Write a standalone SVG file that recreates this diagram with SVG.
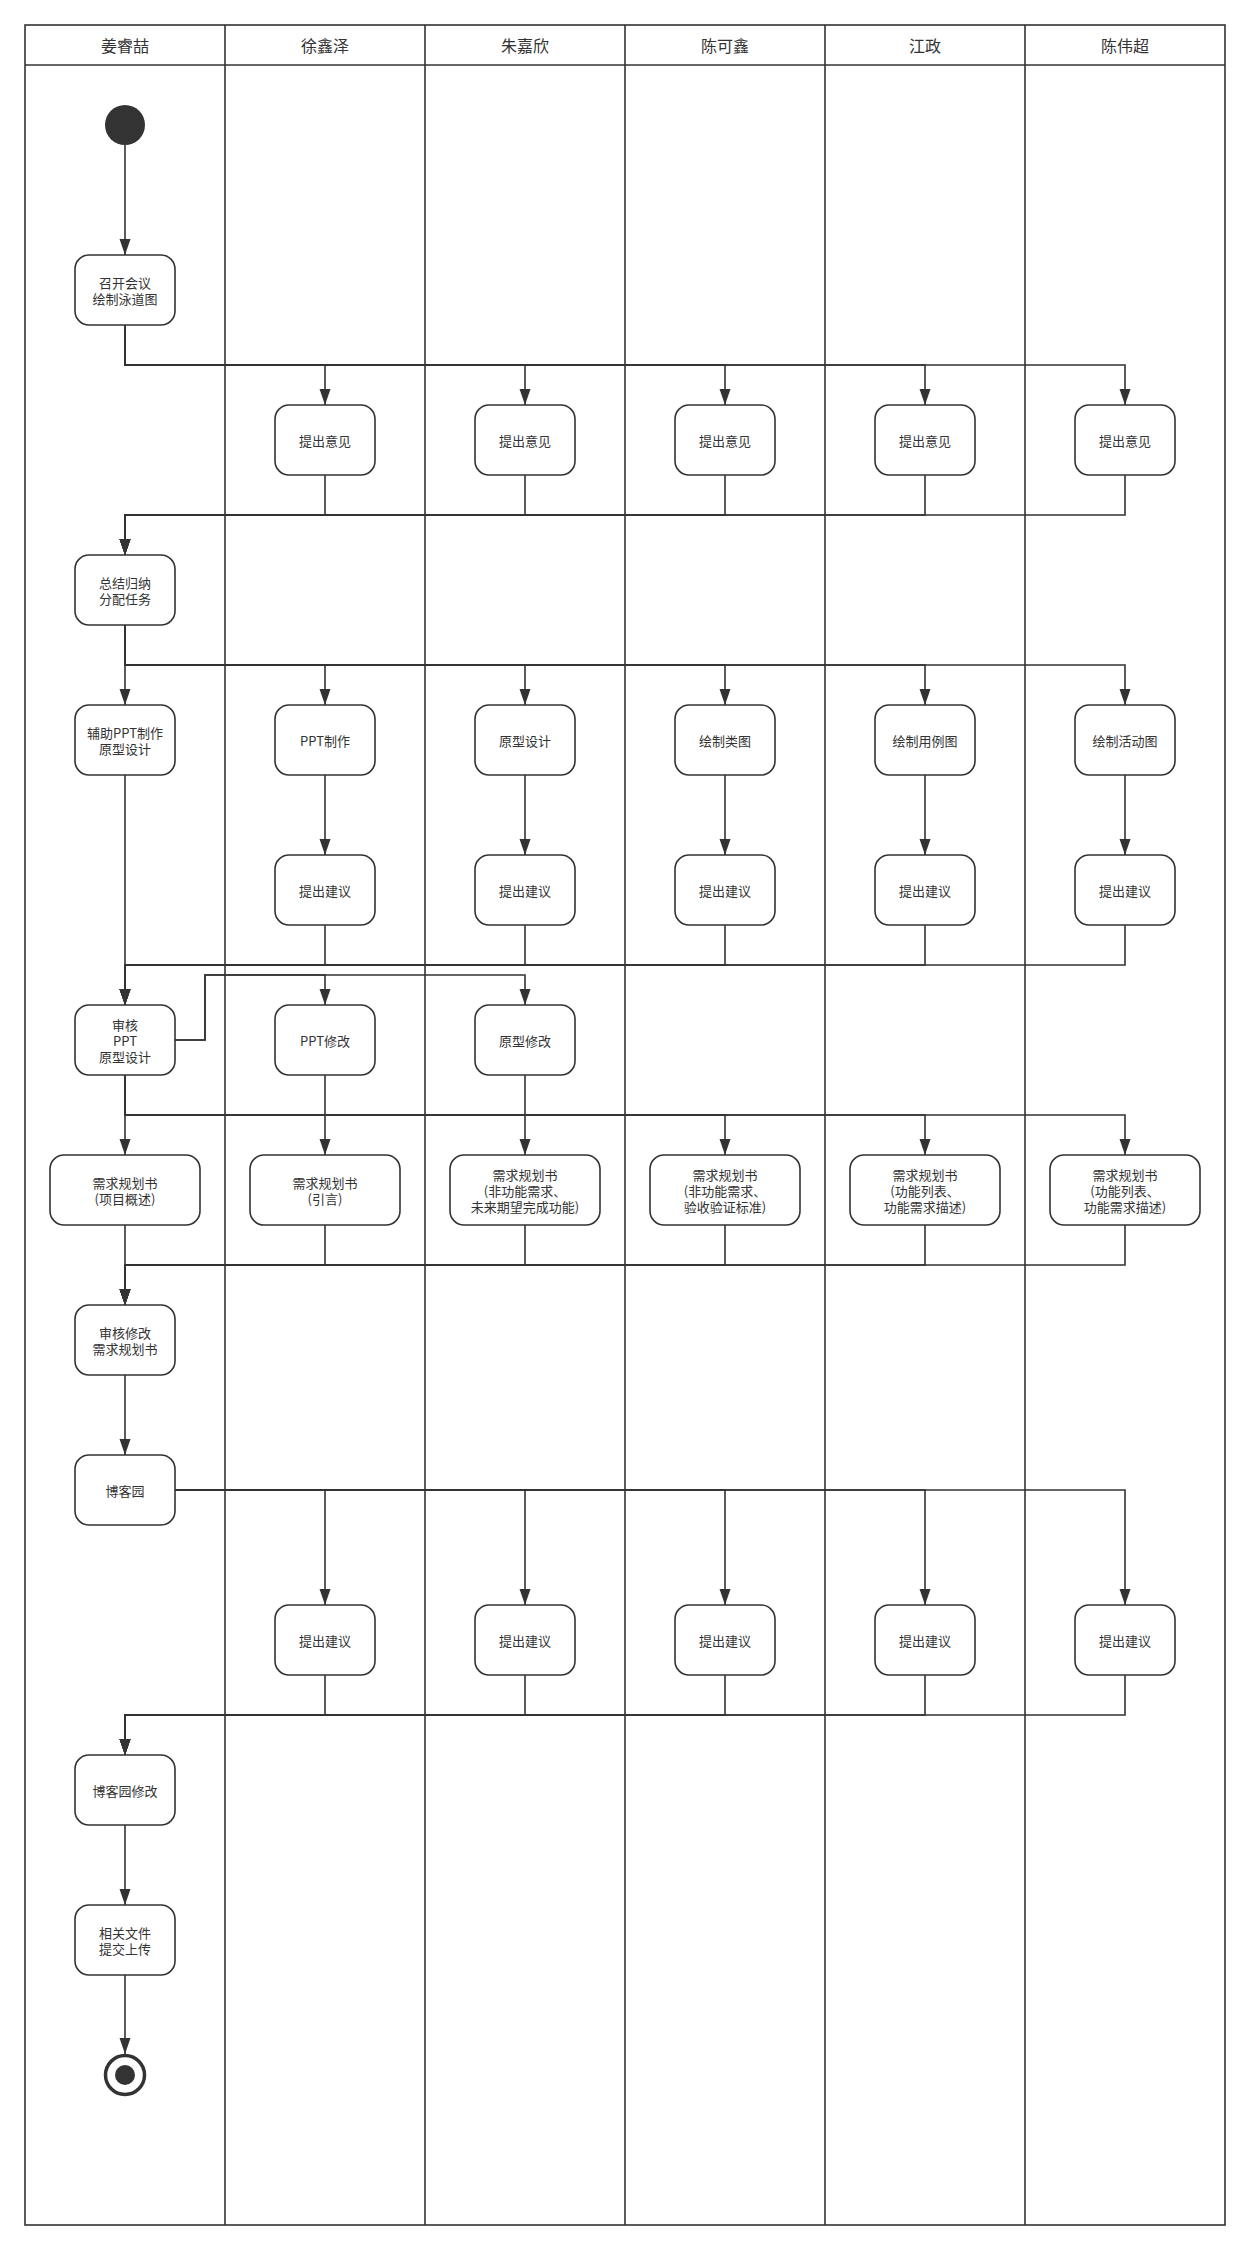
<svg xmlns="http://www.w3.org/2000/svg" width="1250" height="2250" viewBox="0 0 1250 2250">
<style>
.lane{fill:none;stroke:#333;stroke-width:1.6}
.hd{font-family:"Noto Sans CJK SC","Liberation Sans",sans-serif;font-size:16px;fill:#333;text-anchor:middle;dominant-baseline:central}
.box{fill:#fff;stroke:#333;stroke-width:1.6}
.t{font-family:"Noto Sans CJK SC","Liberation Sans",sans-serif;font-size:13px;fill:#333;text-anchor:middle;dominant-baseline:central}
.c{fill:none;stroke:#333;stroke-width:1.6}
.a{fill:none;stroke:#333;stroke-width:1.6;marker-end:url(#arr)}
</style>
<defs>
<marker id="arr" markerUnits="userSpaceOnUse" markerWidth="16" markerHeight="12" refX="16" refY="5.5" orient="auto">
<path d="M0,0 L16,5.5 L0,11 Z" fill="#333"/>
</marker>
</defs>
<rect width="1250" height="2250" fill="#fff"/>
<g id="lanes">
<rect class="lane" x="25" y="25" width="1200" height="2200"/>
<line class="lane" x1="25" y1="65" x2="1225" y2="65"/>
<line class="lane" x1="225" y1="25" x2="225" y2="2225"/>
<line class="lane" x1="425" y1="25" x2="425" y2="2225"/>
<line class="lane" x1="625" y1="25" x2="625" y2="2225"/>
<line class="lane" x1="825" y1="25" x2="825" y2="2225"/>
<line class="lane" x1="1025" y1="25" x2="1025" y2="2225"/>
<text class="hd" x="125" y="45">姜睿喆</text>
<text class="hd" x="325" y="45">徐鑫泽</text>
<text class="hd" x="525" y="45">朱嘉欣</text>
<text class="hd" x="725" y="45">陈可鑫</text>
<text class="hd" x="925" y="45">江政</text>
<text class="hd" x="1125" y="45">陈伟超</text>
</g>
<g id="connectors">
<path class="a" d="M125,145 V255"/>
<path class="a" d="M125,325 V365 H325 V405"/>
<path class="a" d="M125,325 V365 H525 V405"/>
<path class="a" d="M125,325 V365 H725 V405"/>
<path class="a" d="M125,325 V365 H925 V405"/>
<path class="a" d="M125,325 V365 H1125 V405"/>
<path class="a" d="M325,475 V515 H125 V555"/>
<path class="a" d="M525,475 V515 H125 V555"/>
<path class="a" d="M725,475 V515 H125 V555"/>
<path class="a" d="M925,475 V515 H125 V555"/>
<path class="a" d="M1125,475 V515 H125 V555"/>
<path class="a" d="M125,625 V705"/>
<path class="a" d="M125,625 V665 H325 V705"/>
<path class="a" d="M125,625 V665 H525 V705"/>
<path class="a" d="M125,625 V665 H725 V705"/>
<path class="a" d="M125,625 V665 H925 V705"/>
<path class="a" d="M125,625 V665 H1125 V705"/>
<path class="a" d="M325,775 V855"/>
<path class="a" d="M525,775 V855"/>
<path class="a" d="M725,775 V855"/>
<path class="a" d="M925,775 V855"/>
<path class="a" d="M1125,775 V855"/>
<path class="a" d="M125,775 V1005"/>
<path class="a" d="M325,925 V965 H125 V1005"/>
<path class="a" d="M525,925 V965 H125 V1005"/>
<path class="a" d="M725,925 V965 H125 V1005"/>
<path class="a" d="M925,925 V965 H125 V1005"/>
<path class="a" d="M1125,925 V965 H125 V1005"/>
<path class="a" d="M175,1040 H205 V975 H325 V1005"/>
<path class="a" d="M175,1040 H205 V975 H525 V1005"/>
<path class="a" d="M125,1075 V1155"/>
<path class="a" d="M325,1075 V1155"/>
<path class="a" d="M525,1075 V1155"/>
<path class="a" d="M125,1075 V1115 H725 V1155"/>
<path class="a" d="M125,1075 V1115 H925 V1155"/>
<path class="a" d="M125,1075 V1115 H1125 V1155"/>
<path class="a" d="M125,1225 V1305"/>
<path class="a" d="M325,1225 V1265 H125 V1305"/>
<path class="a" d="M525,1225 V1265 H125 V1305"/>
<path class="a" d="M725,1225 V1265 H125 V1305"/>
<path class="a" d="M925,1225 V1265 H125 V1305"/>
<path class="a" d="M1125,1225 V1265 H125 V1305"/>
<path class="a" d="M125,1375 V1455"/>
<path class="a" d="M175,1490 H325 V1605"/>
<path class="a" d="M175,1490 H525 V1605"/>
<path class="a" d="M175,1490 H725 V1605"/>
<path class="a" d="M175,1490 H925 V1605"/>
<path class="a" d="M175,1490 H1125 V1605"/>
<path class="a" d="M325,1675 V1715 H125 V1755"/>
<path class="a" d="M525,1675 V1715 H125 V1755"/>
<path class="a" d="M725,1675 V1715 H125 V1755"/>
<path class="a" d="M925,1675 V1715 H125 V1755"/>
<path class="a" d="M1125,1675 V1715 H125 V1755"/>
<path class="a" d="M125,1825 V1905"/>
<path class="a" d="M125,1975 V2054"/>
</g>
<g id="start"><circle cx="125" cy="125" r="20" fill="#333"/></g>
<g id="n_meeting"><rect class="box" x="75" y="255" width="100" height="70" rx="14"/><text class="t" x="125" y="282">召开会议</text><text class="t" x="125" y="298">绘制泳道图</text></g>
<g id="n_op1"><rect class="box" x="275" y="405" width="100" height="70" rx="14"/><text class="t" x="325" y="440">提出意见</text></g>
<g id="n_op2"><rect class="box" x="475" y="405" width="100" height="70" rx="14"/><text class="t" x="525" y="440">提出意见</text></g>
<g id="n_op3"><rect class="box" x="675" y="405" width="100" height="70" rx="14"/><text class="t" x="725" y="440">提出意见</text></g>
<g id="n_op4"><rect class="box" x="875" y="405" width="100" height="70" rx="14"/><text class="t" x="925" y="440">提出意见</text></g>
<g id="n_op5"><rect class="box" x="1075" y="405" width="100" height="70" rx="14"/><text class="t" x="1125" y="440">提出意见</text></g>
<g id="n_summary"><rect class="box" x="75" y="555" width="100" height="70" rx="14"/><text class="t" x="125" y="582">总结归纳</text><text class="t" x="125" y="598">分配任务</text></g>
<g id="n_assist"><rect class="box" x="75" y="705" width="100" height="70" rx="14"/><text class="t" x="125" y="732">辅助PPT制作</text><text class="t" x="125" y="748">原型设计</text></g>
<g id="n_ppt"><rect class="box" x="275" y="705" width="100" height="70" rx="14"/><text class="t" x="325" y="740">PPT制作</text></g>
<g id="n_proto"><rect class="box" x="475" y="705" width="100" height="70" rx="14"/><text class="t" x="525" y="740">原型设计</text></g>
<g id="n_class"><rect class="box" x="675" y="705" width="100" height="70" rx="14"/><text class="t" x="725" y="740">绘制类图</text></g>
<g id="n_usecase"><rect class="box" x="875" y="705" width="100" height="70" rx="14"/><text class="t" x="925" y="740">绘制用例图</text></g>
<g id="n_activity"><rect class="box" x="1075" y="705" width="100" height="70" rx="14"/><text class="t" x="1125" y="740">绘制活动图</text></g>
<g id="n_sg1"><rect class="box" x="275" y="855" width="100" height="70" rx="14"/><text class="t" x="325" y="890">提出建议</text></g>
<g id="n_sg2"><rect class="box" x="475" y="855" width="100" height="70" rx="14"/><text class="t" x="525" y="890">提出建议</text></g>
<g id="n_sg3"><rect class="box" x="675" y="855" width="100" height="70" rx="14"/><text class="t" x="725" y="890">提出建议</text></g>
<g id="n_sg4"><rect class="box" x="875" y="855" width="100" height="70" rx="14"/><text class="t" x="925" y="890">提出建议</text></g>
<g id="n_sg5"><rect class="box" x="1075" y="855" width="100" height="70" rx="14"/><text class="t" x="1125" y="890">提出建议</text></g>
<g id="n_review"><rect class="box" x="75" y="1005" width="100" height="70" rx="14"/><text class="t" x="125" y="1024">审核</text><text class="t" x="125" y="1040">PPT</text><text class="t" x="125" y="1056">原型设计</text></g>
<g id="n_pptfix"><rect class="box" x="275" y="1005" width="100" height="70" rx="14"/><text class="t" x="325" y="1040">PPT修改</text></g>
<g id="n_protofix"><rect class="box" x="475" y="1005" width="100" height="70" rx="14"/><text class="t" x="525" y="1040">原型修改</text></g>
<g id="n_req1"><rect class="box" x="50" y="1155" width="150" height="70" rx="14"/><text class="t" x="125" y="1182">需求规划书</text><text class="t" x="125" y="1198">(项目概述)</text></g>
<g id="n_req2"><rect class="box" x="250" y="1155" width="150" height="70" rx="14"/><text class="t" x="325" y="1182">需求规划书</text><text class="t" x="325" y="1198">(引言)</text></g>
<g id="n_req3"><rect class="box" x="450" y="1155" width="150" height="70" rx="14"/><text class="t" x="525" y="1174">需求规划书</text><text class="t" x="525" y="1190">(非功能需求、</text><text class="t" x="525" y="1206">未来期望完成功能)</text></g>
<g id="n_req4"><rect class="box" x="650" y="1155" width="150" height="70" rx="14"/><text class="t" x="725" y="1174">需求规划书</text><text class="t" x="725" y="1190">(非功能需求、</text><text class="t" x="725" y="1206">验收验证标准)</text></g>
<g id="n_req5"><rect class="box" x="850" y="1155" width="150" height="70" rx="14"/><text class="t" x="925" y="1174">需求规划书</text><text class="t" x="925" y="1190">(功能列表、</text><text class="t" x="925" y="1206">功能需求描述)</text></g>
<g id="n_req6"><rect class="box" x="1050" y="1155" width="150" height="70" rx="14"/><text class="t" x="1125" y="1174">需求规划书</text><text class="t" x="1125" y="1190">(功能列表、</text><text class="t" x="1125" y="1206">功能需求描述)</text></g>
<g id="n_reqreview"><rect class="box" x="75" y="1305" width="100" height="70" rx="14"/><text class="t" x="125" y="1332">审核修改</text><text class="t" x="125" y="1348">需求规划书</text></g>
<g id="n_blog"><rect class="box" x="75" y="1455" width="100" height="70" rx="14"/><text class="t" x="125" y="1490">博客园</text></g>
<g id="n_bs1"><rect class="box" x="275" y="1605" width="100" height="70" rx="14"/><text class="t" x="325" y="1640">提出建议</text></g>
<g id="n_bs2"><rect class="box" x="475" y="1605" width="100" height="70" rx="14"/><text class="t" x="525" y="1640">提出建议</text></g>
<g id="n_bs3"><rect class="box" x="675" y="1605" width="100" height="70" rx="14"/><text class="t" x="725" y="1640">提出建议</text></g>
<g id="n_bs4"><rect class="box" x="875" y="1605" width="100" height="70" rx="14"/><text class="t" x="925" y="1640">提出建议</text></g>
<g id="n_bs5"><rect class="box" x="1075" y="1605" width="100" height="70" rx="14"/><text class="t" x="1125" y="1640">提出建议</text></g>
<g id="n_blogfix"><rect class="box" x="75" y="1755" width="100" height="70" rx="14"/><text class="t" x="125" y="1790">博客园修改</text></g>
<g id="n_upload"><rect class="box" x="75" y="1905" width="100" height="70" rx="14"/><text class="t" x="125" y="1932">相关文件</text><text class="t" x="125" y="1948">提交上传</text></g>
<g id="end"><circle cx="125" cy="2075" r="19.5" fill="#fff" stroke="#333" stroke-width="3.5"/><circle cx="125" cy="2075" r="10" fill="#333"/></g>
</svg>
